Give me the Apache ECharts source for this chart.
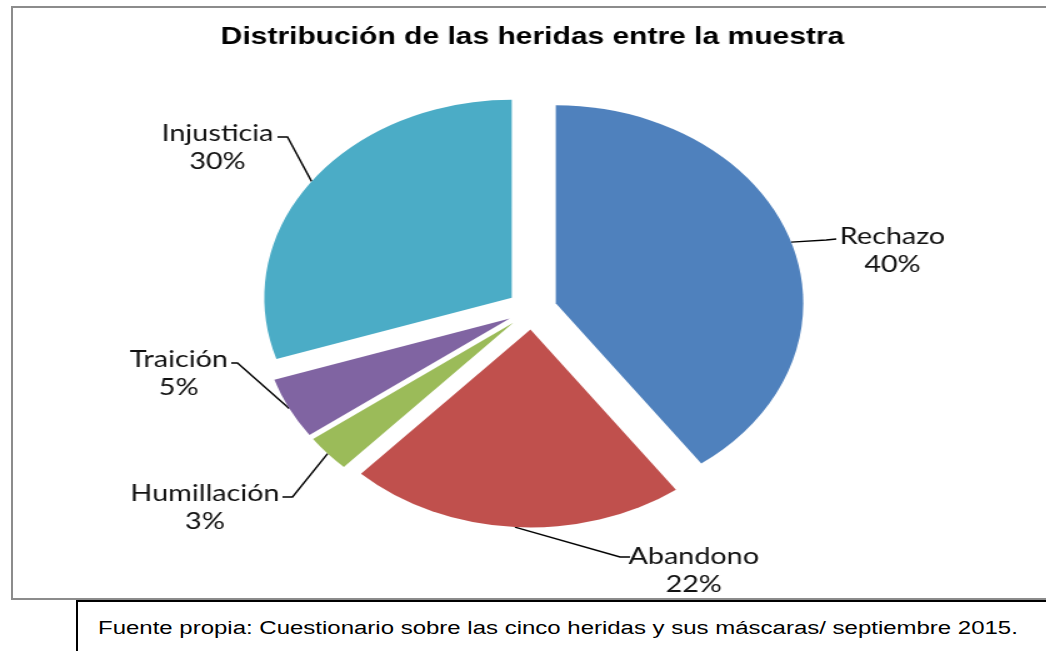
<!DOCTYPE html>
<html>
<head>
<meta charset="utf-8">
<script src="https://cdn.jsdelivr.net/npm/echarts@6/dist/echarts.min.js"></script>
<style>
body{margin:0;background:#fff;}
#frame{position:absolute;left:11px;top:6px;width:1040px;height:590px;border:2px solid #8c8c8c;}
#main{position:absolute;left:0;top:0;width:837px;height:600px;transform:scaleX(1.25);transform-origin:0 0;}
#foot{position:absolute;left:76px;top:600px;width:980px;height:60px;border-left:2px solid #000;border-top:2px solid #000;}
#foot span{position:absolute;left:20px;top:15px;font:19.2px "Liberation Sans",Arial,sans-serif;transform:scaleX(1.25);transform-origin:0 0;white-space:nowrap;color:#000;}
</style>
</head>
<body>
<div id="frame"></div>
<div id="main"></div>
<div id="foot"><span>Fuente propia: Cuestionario sobre las cinco heridas y sus máscaras/ septiembre 2015.</span></div>
<script>
var titleText = 'Distribución de las heridas entre la muestra';
var names = ['Rechazo', 'Abandono', 'Humillación', 'Traición', 'Injusticia'];
var values = [40, 22, 3, 5, 30];
var colors = ['#4F81BD', '#C0504D', '#9BBB59', '#8064A2', '#4BACC6'];

// label spots (chart px, before the 1.25 stretch): text centre, first line y, elbow, line end
var labelSpots = [
    {x: 714, y: 237, elbow: [661, 240], end: [669, 239]},
    {x: 555, y: 557, elbow: [496, 557], end: [504, 557]},
    {x: 164, y: 494, elbow: [234, 497], end: [226, 497]},
    {x: 143, y: 360, elbow: [190, 363], end: [185, 363]},
    {x: 174, y: 134, elbow: [230, 137], end: [222, 137]}
];

var pieCenter = [425.6, 309.5];
var pieRadius = 198;
var explode = 20;

var chart = echarts.init(document.getElementById('main'));

// one pie per slice so every slice can be pulled out along its own bisector
var total = values.reduce(function (a, b) { return a + b; }, 0);
var series = [];
var before = 0;
for (let i = 0; i < names.length; i++) {
    var mid = (before + values[i] / 2) / total * Math.PI * 2;
    before += values[i];
    var data = [];
    for (let j = 0; j < names.length; j++) {
        var item = {name: names[j], value: values[j], itemStyle: {color: colors[j]}};
        if (j !== i) {
            item.itemStyle = {color: 'rgba(0,0,0,0)'};
            item.label = {show: false};
            item.labelLine = {show: false};
        }
        data.push(item);
    }
    series.push({
        type: 'pie',
        center: [pieCenter[0] + explode * Math.sin(mid), pieCenter[1] - explode * Math.cos(mid)],
        radius: pieRadius,
        startAngle: 90,
        clockwise: true,
        silent: true,
        avoidLabelOverlap: false,
        emphasis: {disabled: true},
        label: {
            show: true,
            position: 'outside',
            formatter: '{b}\n{d}%',
            fontFamily: 'Lato',
            fontSize: 23,
            lineHeight: 28,
            color: '#111'
        },
        labelLine: {
            show: true,
            length: 10,
            length2: 10,
            lineStyle: {color: '#000', width: 1.4}
        },
        labelLayout: function (p) {
            if (!p.labelLinePoints) {
                return {};
            }
            var s = labelSpots[p.dataIndex];
            return {
                x: s.x,
                y: s.y + 14,
                align: 'center',
                verticalAlign: 'middle',
                labelLinePoints: [p.labelLinePoints[0], s.elbow, s.end]
            };
        },
        data: data
    });
}

var option = {
    animation: false,
    title: {
        text: titleText,
        left: 421,
        top: 20,
        textAlign: 'center',
        textStyle: {
            fontFamily: 'Liberation Sans',
            fontWeight: 'bold',
            fontSize: 24,
            color: '#000'
        }
    },
    series: series
};
chart.setOption(option, true);
</script>
</body>
</html>
